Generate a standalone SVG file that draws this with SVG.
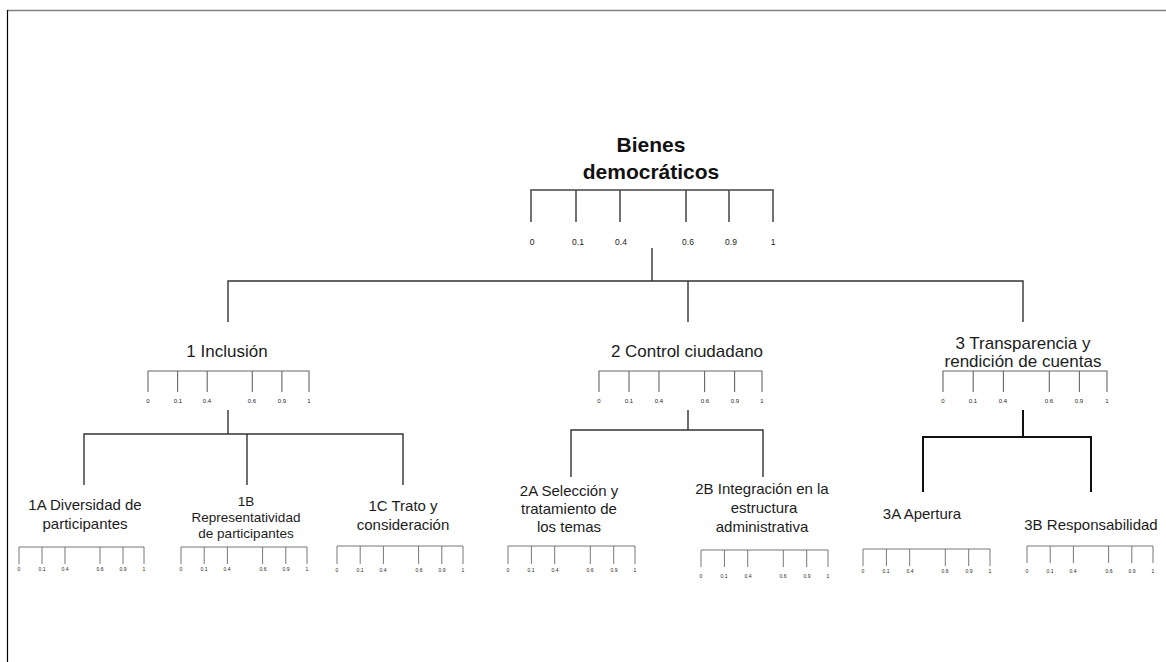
<svg xmlns="http://www.w3.org/2000/svg" width="1166" height="662" viewBox="0 0 1166 662">
<style>
text{font-family:"Liberation Sans",Arial,sans-serif;fill:#1c1c1c;text-anchor:middle}
.t0{font-size:21px;font-weight:bold;fill:#111}
.t2{font-size:17px}
.t3{font-size:15px}
.t3s{font-size:13.5px}
.sc0{fill:none;stroke:#444;stroke-width:1.5}
.sc2{fill:none;stroke:#666;stroke-width:1.1}
.sc3{fill:none;stroke:#777;stroke-width:1}
.l0{font-size:8.5px;fill:#444}
.l2{font-size:6px;fill:#666}
.l3{font-size:5px;fill:#888}
.conn{fill:none;stroke:#333;stroke-width:1.4}
.connb{fill:none;stroke:#111;stroke-width:2}
</style>
<rect width="1166" height="662" fill="#fff"/>
<g id="frame">
<line x1="7" y1="10.5" x2="1166" y2="10.5" stroke="#808080" stroke-width="1.7"/>
<line x1="7.5" y1="10" x2="7.5" y2="662" stroke="#000" stroke-width="1.2"/>
</g>
<g id="connectors">
<path class="conn" d="M652,248 V281 M228,322 V281 H1023 V322 M688,281 V322"/>
<path class="conn" d="M228,410 V434 M84,485 V434 H403 V485 M247,434 V485"/>
<path class="conn" d="M688,410 V430 M571,477 V430 H763 V477"/>
<path class="connb" d="M1023,410 V437 M923,492 V437 H1091 V492"/>
</g>
<g id="n0">
<text class="t0" x="651" y="152">Bienes</text>
<text class="t0" x="651" y="179">democráticos</text>
<path class="sc0" d="M531,222 V190 H773 V222 M576,190 V222 M620,190 V222 M686,190 V222 M729,190 V222"/>
<g class="l0"><text x="532" y="245">0</text><text x="578" y="245">0.1</text><text x="621" y="245">0.4</text><text x="688" y="245">0.6</text><text x="731" y="245">0.9</text><text x="773" y="245">1</text></g>
</g>
<g id="n1">
<text class="t2" x="227" y="357">1 Inclusión</text>
<path class="sc2" d="M148,392 V371 H309 V392 M177.6,371 V392 M207.2,371 V392 M252.3,371 V392 M281.9,371 V392"/>
<g class="l2"><text x="148" y="403">0</text><text x="178" y="403">0.1</text><text x="207" y="403">0.4</text><text x="252" y="403">0.6</text><text x="282" y="403">0.9</text><text x="309" y="403">1</text></g>
</g>
<g id="n2">
<text class="t2" x="687" y="357">2 Control ciudadano</text>
<path class="sc2" d="M599,392 V371 H762 V392 M629,371 V392 M659,371 V392 M704.6,371 V392 M734.6,371 V392"/>
<g class="l2"><text x="599" y="403">0</text><text x="629" y="403">0.1</text><text x="659" y="403">0.4</text><text x="705" y="403">0.6</text><text x="735" y="403">0.9</text><text x="762" y="403">1</text></g>
</g>
<g id="n3">
<text class="t2" x="1023" y="349">3 Transparencia y</text>
<text class="t2" x="1023" y="367">rendición de cuentas</text>
<path class="sc2" d="M943,392 V371 H1107 V392 M973.2,371 V392 M1003.4,371 V392 M1049.3,371 V392 M1079.4,371 V392"/>
<g class="l2"><text x="943" y="403">0</text><text x="973" y="403">0.1</text><text x="1003" y="403">0.4</text><text x="1049" y="403">0.6</text><text x="1079" y="403">0.9</text><text x="1107" y="403">1</text></g>
</g>
<g id="n1A">
<text class="t3" x="85" y="510">1A Diversidad de</text>
<text class="t3" x="85" y="529">participantes</text>
<path class="sc3" d="M19,564 V547 H144 V564 M42,547 V564 M65,547 V564 M100,547 V564 M123,547 V564"/>
<g class="l3"><text x="19" y="571">0</text><text x="42" y="571">0.1</text><text x="65" y="571">0.4</text><text x="100" y="571">0.6</text><text x="123" y="571">0.9</text><text x="144" y="571">1</text></g>
</g>
<g id="n1B">
<text class="t3s" x="246" y="506">1B</text>
<text class="t3s" x="246" y="522">Representatividad</text>
<text class="t3s" x="246" y="538">de participantes</text>
<path class="sc3" d="M181,564 V547 H307 V564 M204.2,547 V564 M227.4,547 V564 M262.6,547 V564 M285.8,547 V564"/>
<g class="l3"><text x="181" y="571">0</text><text x="204" y="571">0.1</text><text x="227" y="571">0.4</text><text x="263" y="571">0.6</text><text x="286" y="571">0.9</text><text x="307" y="571">1</text></g>
</g>
<g id="n1C">
<text class="t3" x="403" y="511">1C Trato y</text>
<text class="t3" x="403" y="530">consideración</text>
<path class="sc3" d="M337,564 V546 H463 V564 M360.2,546 V564 M383.4,546 V564 M418.6,546 V564 M441.8,546 V564"/>
<g class="l3"><text x="337" y="572">0</text><text x="360" y="572">0.1</text><text x="383" y="572">0.4</text><text x="419" y="572">0.6</text><text x="442" y="572">0.9</text><text x="463" y="572">1</text></g>
</g>
<g id="n2A">
<text class="t3" x="569" y="496">2A Selección y</text>
<text class="t3" x="569" y="514">tratamiento de</text>
<text class="t3" x="569" y="532">los temas</text>
<path class="sc3" d="M508,564 V546 H635 V564 M531.4,546 V564 M554.7,546 V564 M590.3,546 V564 M613.7,546 V564"/>
<g class="l3"><text x="508" y="572">0</text><text x="531" y="572">0.1</text><text x="555" y="572">0.4</text><text x="590" y="572">0.6</text><text x="614" y="572">0.9</text><text x="635" y="572">1</text></g>
</g>
<g id="n2B">
<text class="t3" x="762" y="494">2B Integración en la</text>
<text class="t3" x="764" y="513">estructura</text>
<text class="t3" x="762" y="532">administrativa</text>
<path class="sc3" d="M701,567 V550 H828 V567 M724.4,550 V567 M747.7,550 V567 M783.3,550 V567 M806.7,550 V567"/>
<g class="l3"><text x="701" y="578">0</text><text x="724" y="578">0.1</text><text x="748" y="578">0.4</text><text x="783" y="578">0.6</text><text x="807" y="578">0.9</text><text x="828" y="578">1</text></g>
</g>
<g id="n3A">
<text class="t3" x="922" y="519">3A Apertura</text>
<path class="sc3" d="M863,566 V549 H990 V566 M886.4,549 V566 M909.7,549 V566 M945.3,549 V566 M968.7,549 V566"/>
<g class="l3"><text x="863" y="573">0</text><text x="886" y="573">0.1</text><text x="910" y="573">0.4</text><text x="945" y="573">0.6</text><text x="969" y="573">0.9</text><text x="990" y="573">1</text></g>
</g>
<g id="n3B">
<text class="t3" x="1091" y="530">3B Responsabilidad</text>
<path class="sc3" d="M1027,563 V546 H1153 V563 M1050.2,546 V563 M1073.4,546 V563 M1108.6,546 V563 M1131.8,546 V563"/>
<g class="l3"><text x="1027" y="573">0</text><text x="1050" y="573">0.1</text><text x="1073" y="573">0.4</text><text x="1109" y="573">0.6</text><text x="1132" y="573">0.9</text><text x="1153" y="573">1</text></g>
</g>
</svg>
